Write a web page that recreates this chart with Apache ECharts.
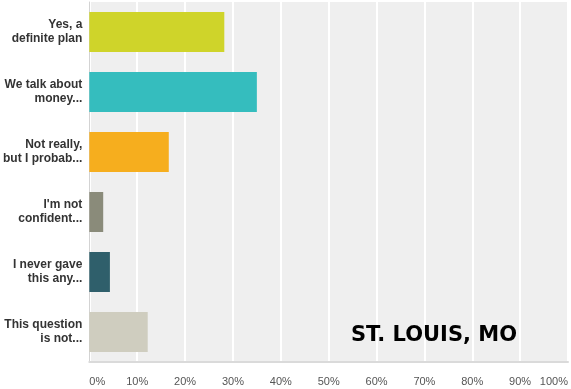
<!DOCTYPE html>
<html><head><meta charset="utf-8">
<style>html,body{margin:0;padding:0;background:#fff}#c{width:571px;height:389px}</style>
<script src="https://cdn.jsdelivr.net/npm/echarts@6/dist/echarts.min.js"></script>
</head><body><div id="c"></div>
<script>
const categories = ["Yes, a\ndefinite plan", "We talk about\nmoney...", "Not really,\nbut I probab...", "I'm not\nconfident...", "I never gave\nthis any...", "This question\nis not..."];
const values = [28.2, 35.0, 16.6, 2.9, 4.3, 12.2];
const colors = ["#cfd42a", "#35bdbe", "#f6ae1e", "#8a8b7a", "#2f5f6b", "#cfcdbf"];
const xTicks = [0,10,20,30,40,50,60,70,80,90,100];
const chart = echarts.init(document.getElementById('c'));
chart.setOption({
  animation: false,
  grid: {left: 88, right: 3, top: 2, bottom: 27, show: true, backgroundColor: '#efefef', borderWidth: 0},
  xAxis: {type: 'value', min: 0, max: 100, interval: 10,
    axisLine: {show: true, lineStyle: {color: '#dadada', width: 2}},
    axisTick: {show: false},
    splitLine: {show: true, lineStyle: {color: '#ffffff', width: 2}},
    axisLabel: {formatter: v => xTicks.includes(v) ? v + '%' : '', color: '#555', fontSize: 11, fontFamily: 'Liberation Sans, Arial, sans-serif', margin: 14, alignMinLabel: 'left', alignMaxLabel: 'right'}
  },
  yAxis: {type: 'category', data: categories, inverse: true,
    axisLine: {show: true, lineStyle: {color: '#d3d3d3', width: 1}},
    axisTick: {show: false},
    axisLabel: {color: '#333', fontSize: 12, fontWeight: 'bold', fontFamily: 'Liberation Sans, Arial, sans-serif', margin: 7, lineHeight: 14, align: 'right'}
  },
  series: [{type: 'bar', barWidth: 40,
    data: values.map((v, i) => ({value: v, itemStyle: {color: colors[i]}}))}],
  graphic: [{type: 'text', left: 351, top: 325, z: 100,
    style: {text: 'ST. LOUIS, MO', font: 'bold 21px "DejaVu Sans", sans-serif', fill: '#000'}}]
});
</script></body></html>
